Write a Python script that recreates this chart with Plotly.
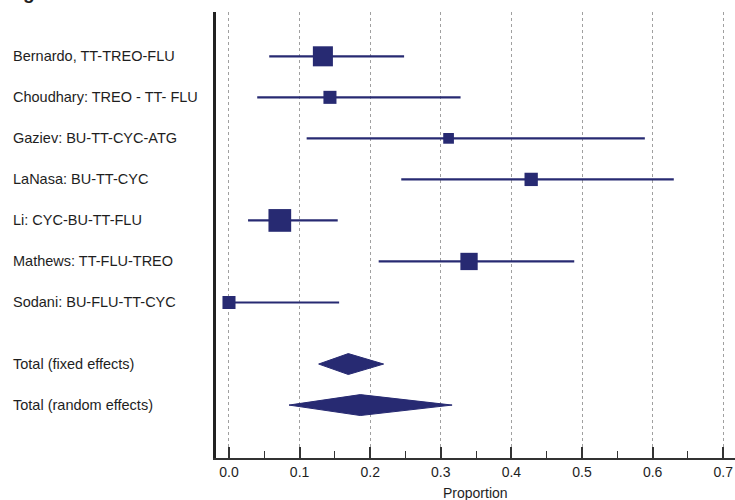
import plotly.graph_objects as go

# ---------------- data ----------------
studies = [
    "Bernardo, TT-TREO-FLU",
    "Choudhary: TREO - TT- FLU",
    "Gaziev: BU-TT-CYC-ATG",
    "LaNasa: BU-TT-CYC",
    "Li: CYC-BU-TT-FLU",
    "Mathews: TT-FLU-TREO",
    "Sodani: BU-FLU-TT-CYC",
]
proportion = [0.133, 0.143, 0.311, 0.428, 0.072, 0.340, 0.000]
ci_low = [0.057, 0.040, 0.110, 0.244, 0.027, 0.212, 0.000]
ci_high = [0.248, 0.328, 0.589, 0.630, 0.154, 0.489, 0.156]
weights = [21.7, 9.2, 6.2, 9.6, 27.9, 16.2, 9.2]  # relative weight (%)

pooled_labels = ["Total (fixed effects)", "Total (random effects)"]
pooled_est = [0.169, 0.186]
pooled_low = [0.127, 0.085]
pooled_high = [0.219, 0.316]

tick_vals = [0.0, 0.1, 0.2, 0.3, 0.4, 0.5, 0.6, 0.7]
tick_text = ["0.0", "0.1", "0.2", "0.3", "0.4", "0.5", "0.6", "0.7"]
x_title = "Proportion"
fig_title = "Figure"

# ---------------- style ----------------
NAVY = "#272a72"
TXT = "#1e1e1e"
FONT = "Liberation Sans, Arial, sans-serif"
study_rows = list(range(len(studies)))
pooled_rows = [len(studies) + 0.5, len(studies) + 1.5]
DIAMOND_HALF = 0.255

fig = go.Figure()

fig.add_trace(go.Scatter(
    x=proportion,
    y=study_rows,
    mode="markers",
    marker=dict(symbol="square", color=NAVY, opacity=1,
                size=[4.3 * w ** 0.5 for w in weights], line=dict(width=0)),
    error_x=dict(type="data", symmetric=False,
                 array=[h - e for h, e in zip(ci_high, proportion)],
                 arrayminus=[e - l for e, l in zip(proportion, ci_low)],
                 color=NAVY, thickness=2.2, width=0),
    hoverinfo="skip",
    showlegend=False,
))

for row, est, lo, hi in zip(pooled_rows, pooled_est, pooled_low, pooled_high):
    fig.add_trace(go.Scatter(
        x=[lo, est, hi, est, lo],
        y=[row, row - DIAMOND_HALF, row, row + DIAMOND_HALF, row],
        mode="lines", fill="toself", fillcolor=NAVY,
        line=dict(color=NAVY, width=1),
        hoverinfo="skip", showlegend=False,
    ))

annotations = []
for row, lab in zip(study_rows + pooled_rows, studies + pooled_labels):
    annotations.append(dict(
        x=(11 - 216) / 519, xref="paper", y=row, yref="y",
        text=lab, showarrow=False, xanchor="left", yanchor="middle",
        font=dict(family=FONT, size=14.5, color=TXT),
    ))
annotations.append(dict(
    x=0.5, xref="paper", y=-35 / 446, yref="paper",
    text=x_title, showarrow=False, xanchor="center", yanchor="middle",
    font=dict(family=FONT, size=14, color=TXT),
))
annotations.append(dict(
    x=(4 - 216) / 519, xref="paper", y=(458 - 5) / 446, yref="paper",
    text="<b>" + fig_title + "</b>", showarrow=False, xanchor="left", yanchor="bottom",
    font=dict(family=FONT, size=19, color=TXT),
))

fig.update_layout(
    width=735, height=500,
    margin=dict(l=216, r=0, t=12, b=42),
    paper_bgcolor="white", plot_bgcolor="white",
    annotations=annotations,
    xaxis=dict(
        range=[-0.0184, 0.7167],
        tickmode="array", tickvals=tick_vals, ticktext=tick_text,
        ticks="inside", ticklen=11, tickwidth=2, tickcolor="#333333",
        minor=dict(ticks="inside", ticklen=7, tickwidth=1, tickcolor="#333333",
                   dtick=0.05, tick0=0, showgrid=False),
        showgrid=True, gridcolor="#a0a0a0", gridwidth=1, griddash="dot",
        zeroline=False,
        showline=True, linecolor="#333333", linewidth=2,
        tickfont=dict(family=FONT, size=14, color=TXT),
    ),
    yaxis=dict(
        range=[9.79, -1.08],
        showticklabels=False, ticks="",
        showgrid=False, zeroline=False,
        showline=True, linecolor="#222222", linewidth=3,
    ),
)

fig.write_html(
    "out.html",
    config={"displayModeBar": False},
    post_script="document.body.style.margin='0';document.body.style.overflow='hidden';",
)
